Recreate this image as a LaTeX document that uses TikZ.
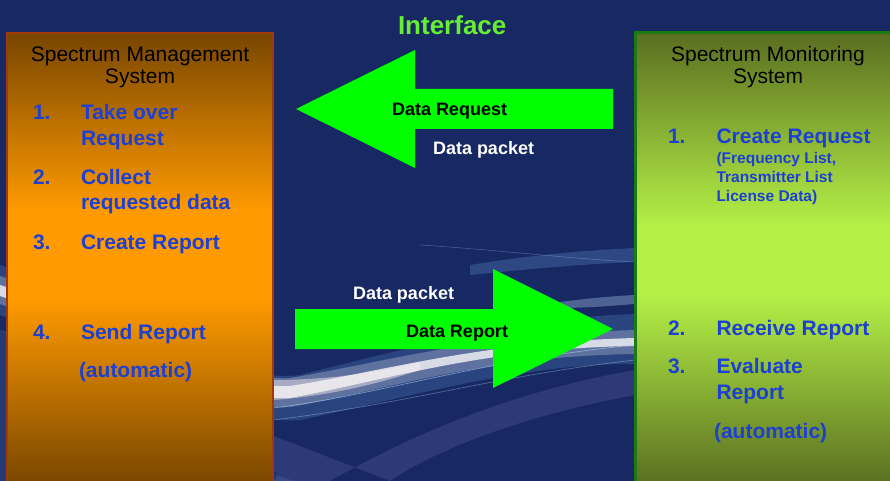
\documentclass[tikz,border=0pt]{standalone}
\usepackage{fontspec}
\setmainfont{Liberation Sans}
\definecolor{navy}{HTML}{172862}
\definecolor{mgmtborder}{HTML}{A03A0A}
\definecolor{mgmtdark}{HTML}{784600}
\definecolor{mgmtlight}{HTML}{FF9A00}
\definecolor{monborder}{HTML}{1C7A12}
\definecolor{mondark}{HTML}{5A6E20}
\definecolor{monlight}{HTML}{B4F046}
\definecolor{itemblue}{HTML}{1E40D2}
\definecolor{ifgreen}{HTML}{66EE33}
\definecolor{arrowgreen}{HTML}{00FF00}
\definecolor{glowblue}{HTML}{6FA8E8}
\definecolor{glowpurple}{HTML}{9A8AD8}
\begin{document}
\begin{tikzpicture}[x=1pt,y=-1pt,
  every node/.style={inner sep=0pt, outer sep=0pt},
  titletext/.style={font=\fontsize{21}{25}\selectfont, text=black, anchor=base, align=center},
  itemtext/.style={font=\fontsize{21}{25}\selectfont\bfseries, text=itemblue, anchor=base west},
  subtext/.style={font=\fontsize{15.5}{19}\selectfont\bfseries, text=itemblue, anchor=base west},
  arrowlabel/.style={font=\fontsize{18}{22}\selectfont\bfseries, anchor=base west},
  blockarrow/.style={fill=arrowgreen},
]
\useasboundingbox (0,0) rectangle (890,481);
% background
\fill[navy] (0,0) rectangle (890,481);
\fill[glowblue, opacity=0.15] (0,330) .. controls (150,360) and (250,481) .. (300,481) -- (0,481) -- cycle;
% swooshes
\fill[glowpurple, opacity=0.18] (0,330) .. controls (200,430) and (300,470) .. (273,481)
   -- (330,481) .. controls (420,430) and (520,390) .. (635,370) -- (635,395) .. controls (500,420) and (420,460) .. (390,481) -- cycle;
\fill[glowblue, opacity=0.22] (0,265) .. controls (150,320) and (230,385) .. (300,375)
   .. controls (420,345) and (520,318) .. (635,314) -- (635,364) .. controls (520,364) and (420,395) .. (300,420)
   .. controls (230,425) and (150,365) .. (0,315) -- cycle;
\fill[white, opacity=0.25] (0,276) .. controls (150,325) and (230,383) .. (290,378)
   .. controls (380,363) and (480,334) .. (635,330) -- (635,354) .. controls (480,356) and (380,392) .. (290,407)
   .. controls (230,412) and (150,355) .. (0,304) -- cycle;
\fill[white, opacity=0.75] (0,285) .. controls (150,332) and (230,390) .. (290,386)
   .. controls (380,372) and (480,342) .. (635,338) -- (635,346) .. controls (480,348) and (380,382) .. (290,398)
   .. controls (230,402) and (150,348) .. (0,296) -- cycle;
\fill[white!80!pink, opacity=0.45] (273,380) .. controls (330,380) and (380,372) .. (420,362)
   -- (420,370) .. controls (380,383) and (330,396) .. (273,400) -- cycle;
\draw[glowblue!60!white, opacity=0.6, line width=0.7pt] (273,408) .. controls (380,395) and (480,360) .. (635,345);
\draw[glowblue!60!white, opacity=0.4, line width=0.7pt] (273,420) .. controls (400,405) and (500,375) .. (635,360);
\fill[glowblue, opacity=0.25] (470,265) .. controls (530,255) and (590,250) .. (635,248) -- (635,262) .. controls (580,264) and (520,270) .. (470,275) -- cycle;
\fill[glowblue!50!white, opacity=0.35] (560,302) .. controls (590,298) and (615,296) .. (635,295) -- (635,304) .. controls (610,306) and (585,308) .. (560,308) -- cycle;
\draw[glowblue!50!white, opacity=0.3, line width=0.6pt] (420,245) .. controls (500,250) and (560,258) .. (635,262);
% management box
\shade[top color=mgmtdark, bottom color=mgmtlight] (7,33) rectangle (273,210.5);
\fill[mgmtlight] (7,210) rectangle (273,300);
\shade[top color=mgmtlight, bottom color=mgmtdark] (7,299.5) rectangle (273,485);
\draw[mgmtborder, line width=2pt] (7,33) rectangle (273,490);
% monitoring box
\shade[top color=mondark, bottom color=monlight] (635,33) rectangle (895,225.5);
\fill[monlight] (635,225) rectangle (895,295);
\shade[top color=monlight, bottom color=mondark] (635,294.5) rectangle (895,485);
\draw[monborder, line width=3pt] (635,33) rectangle (895,490);
% block arrows
\coordinate (reqtailT) at (613,89);
\coordinate (reqtailB) at (613,129);
\coordinate (reqtip) at (296,109);
\coordinate (reptailT) at (295,309);
\coordinate (reptailB) at (295,349);
\coordinate (reptip) at (613,329);
\fill[blockarrow] (reqtailT) -- (415,89) -- (415,50) -- (reqtip) -- (415,168) -- (415,129) -- (reqtailB) -- cycle;
\fill[blockarrow] (reptailT) -- (493,309) -- (493,269) -- (reptip) -- (493,388) -- (493,349) -- (reptailB) -- cycle;
% title
\node[font=\fontsize{26}{30}\selectfont\bfseries, text=ifgreen, anchor=base west] (iface) at (398,35) {Interface};
% arrow labels
\node[arrowlabel, text=black] (dreq) at (392,116) {Data Request};
\node[arrowlabel, text=white] (dpk1) at (433,155) {Data packet};
\node[arrowlabel, text=white] (dpk2) at (353,299) {Data packet};
\node[arrowlabel, text=black] (drep) at (406,337) {Data Report};
% left box text
\node[titletext] (smtitle1) at (140,62) {Spectrum Management};
\node[titletext] (smtitle2) at (140,83.5) {System};
\node[itemtext] (sm1n) at (33,120) {1.};
\node[itemtext] (sm1a) at (81,120) {Take over};
\node[itemtext] (sm1b) at (81,145.5) {Request};
\node[itemtext] (sm2n) at (33,184) {2.};
\node[itemtext] (sm2a) at (81,184) {Collect};
\node[itemtext] (sm2b) at (81,209.5) {requested data};
\node[itemtext] (sm3n) at (33,249) {3.};
\node[itemtext] (sm3a) at (81,249) {Create Report};
\node[itemtext] (sm4n) at (33,339.5) {4.};
\node[itemtext] (sm4a) at (81,339.5) {Send Report};
\node[itemtext] (sm4b) at (79,377.5) {(automatic)};
% right box text
\node[titletext] (mtitle1) at (768,62) {Spectrum Monitoring};
\node[titletext] (mtitle2) at (768,83.5) {System};
\node[itemtext] (m1n) at (668,143.5) {1.};
\node[itemtext] (m1a) at (716.5,143.5) {Create Request};
\node[subtext] (m1b) at (716.5,163.5) {(Frequency List,};
\node[subtext] (m1c) at (716.5,182.5) {Transmitter List};
\node[subtext] (m1d) at (716.5,201.5) {License Data)};
\node[itemtext] (m2n) at (668,335.5) {2.};
\node[itemtext] (m2a) at (716.5,335.5) {Receive Report};
\node[itemtext] (m3n) at (668,373.5) {3.};
\node[itemtext] (m3a) at (716.5,373.5) {Evaluate};
\node[itemtext] (m3b) at (716.5,399) {Report};
\node[itemtext] (m3c) at (714,438.5) {(automatic)};
\end{tikzpicture}
\end{document}
